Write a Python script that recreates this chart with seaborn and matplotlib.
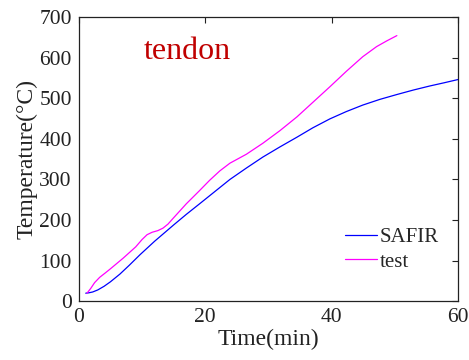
import matplotlib
matplotlib.use('Agg')
import matplotlib.pyplot as plt
import seaborn as sns
import pandas as pd

# SAFIR curve
safir_t = [1.1, 1.6, 2.2, 3.0, 4.0, 5.0, 6.5, 8.0, 9.7, 12.0, 15.0, 17.0, 19.1, 21.5, 23.9, 26.5, 29.1,
           31.8, 34.5, 37.0, 39.7, 42.3, 44.9, 47.6, 50.3, 52.9, 55.5, 57.8, 60.0]
safir_T = [20, 21, 23, 28, 37, 48, 67, 89, 115, 148, 188, 214, 240, 270, 300, 328, 355,
           380, 404, 427, 449, 467, 483, 497, 509, 520, 530, 538, 546]

# test curve
test_t = [1.3, 1.9, 2.5, 3.3, 4.2, 5.0, 7.0, 9.0, 10.0, 10.8, 11.6, 12.5, 13.3, 14.1, 14.9, 17.0, 19.0,
          20.7, 22.3, 23.9, 26.5, 29.1, 31.8, 34.5, 37.1, 39.7, 42.3, 44.9, 47.1, 48.7, 50.3]
test_T = [20, 32, 46, 59, 70, 80, 106, 134, 152, 164, 170, 174, 180, 190, 204, 240, 271,
          298, 321, 340, 362, 389, 420, 454, 491, 528, 566, 602, 627, 641, 654]

df = pd.concat([
    pd.DataFrame({'t': safir_t, 'T': safir_T, 'src': 'SAFIR'}),
    pd.DataFrame({'t': test_t, 'T': test_T, 'src': 'test'}),
])

sns.set_style("white")
plt.rcParams['font.family'] = ['Liberation Serif', 'DejaVu Serif']

fig, ax = plt.subplots(figsize=(4.69, 3.6), dpi=100)
sns.lineplot(data=df, x='t', y='T', hue='src', palette={'SAFIR': '#0000ff', 'test': '#ff00ff'},
             linewidth=0.9, ax=ax, sort=False)

ax.set_xlim(0, 60)
ax.set_ylim(0, 700)
ax.set_xticks([0, 20, 40, 60])
ax.set_yticks(range(0, 701, 100))
ax.tick_params(direction='in', top=True, right=True, labelsize=15.5, length=4, color='#222222',
               labelcolor='#222222', pad=5)
for s in ax.spines.values():
    s.set_color('#222222')
    s.set_linewidth(0.9)
ax.set_xlabel('Time(min)', fontsize=17, color='#222222', labelpad=1)
ax.set_ylabel('Temperature(°C)', fontsize=17, color='#222222', labelpad=1)

ax.text(17.2, 614, 'tendon', color='#c00000', fontsize=23, ha='center', va='center')

leg = ax.legend(loc='lower right', bbox_to_anchor=(0.97, 0.075), frameon=False, fontsize=15,
                handlelength=1.55, handletextpad=0.1, labelspacing=0.25, borderaxespad=0)

plt.subplots_adjust(left=0.168, right=0.977, top=0.953, bottom=0.163)
plt.savefig('out.png', dpi=100)
